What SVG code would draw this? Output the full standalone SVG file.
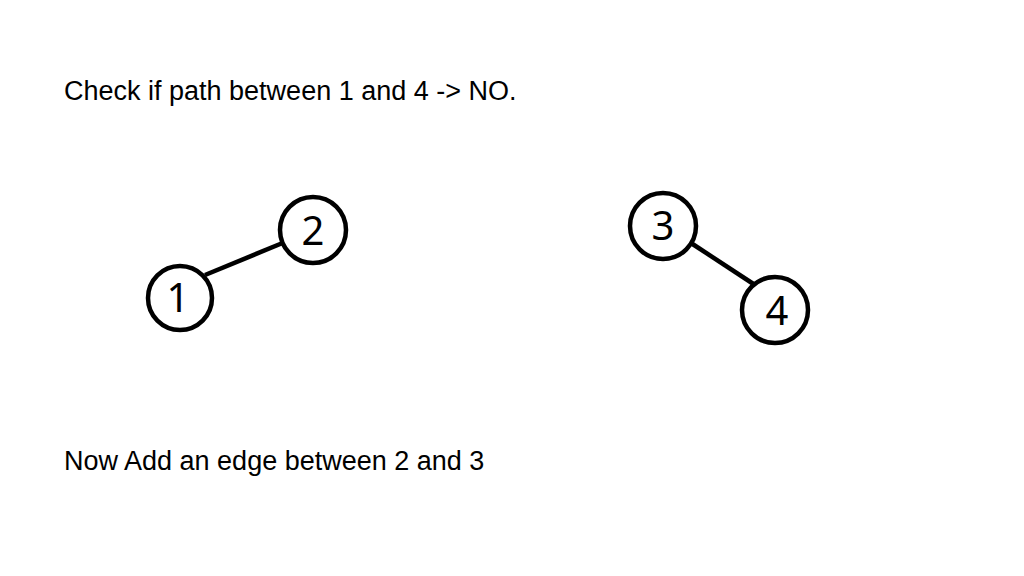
<svg xmlns="http://www.w3.org/2000/svg" width="1024" height="576" viewBox="0 0 1024 576">
<style>
.caption{font-family:"Liberation Sans",Arial,sans-serif;font-size:27px;fill:#000}
.node circle{fill:#fff;stroke:#000;stroke-width:4.5}
.node text{font-family:"Noto Sans","Open Sans",sans-serif;font-size:40px;fill:#000;text-anchor:middle}
.edge{stroke:#000;stroke-width:4.5;fill:none}
</style>
<rect width="1024" height="576" fill="#fff"/>
<text class="caption" x="64" y="100">Check if path between 1 and 4 -&gt; NO.</text>
<text class="caption" x="64" y="470">Now Add an edge between 2 and 3</text>
<g id="connectors">
<line class="edge" x1="205" y1="275" x2="285" y2="242"/>
<line class="edge" x1="691" y1="243" x2="755" y2="285"/>
</g>
<g id="node1" class="node"><circle cx="180" cy="298" r="32"/><text x="178" y="312">1</text></g>
<g id="node2" class="node"><circle cx="313" cy="230" r="33"/><text x="313" y="245">2</text></g>
<g id="node3" class="node"><circle cx="663" cy="226" r="33"/><text x="663" y="240">3</text></g>
<g id="node4" class="node"><circle cx="775" cy="310" r="33"/><text x="777" y="325">4</text></g>
</svg>
